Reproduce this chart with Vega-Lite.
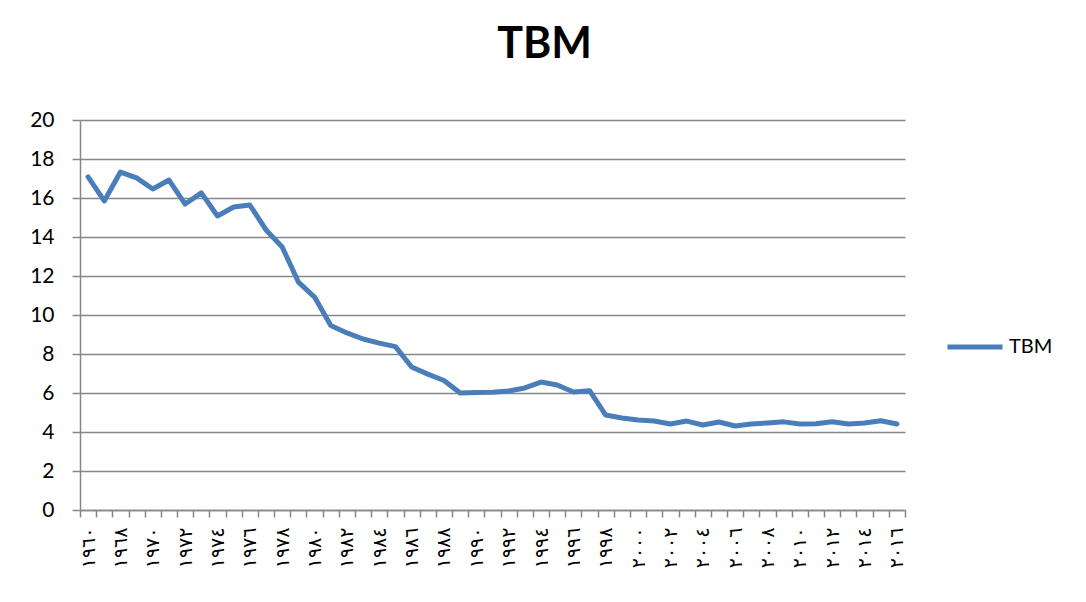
{
  "$schema": "https://vega.github.io/schema/vega-lite/v6.json",
  "autosize": {"type": "none"},
  "width": 825,
  "height": 390,
  "padding": {"left": 80, "top": 120, "right": 181, "bottom": 92},
  "background": "white",
  "title": {
    "text": "TBM",
    "font": "Lato",
    "fontSize": 43,
    "fontWeight": "bold",
    "color": "#000000",
    "anchor": "middle",
    "dx": 52,
    "offset": 42
  },
  "config": {
    "view": {"stroke": null},
    "axis": {"labelColor": "#000000"}
  },
  "data": {
    "values": [
      {"year": "1960", "TBM": 17.08},
      {"year": "1965", "TBM": 15.85},
      {"year": "1968", "TBM": 17.33},
      {"year": "1969", "TBM": 17.03},
      {"year": "1970", "TBM": 16.46},
      {"year": "1971", "TBM": 16.92},
      {"year": "1972", "TBM": 15.69},
      {"year": "1973", "TBM": 16.26},
      {"year": "1974", "TBM": 15.08},
      {"year": "1975", "TBM": 15.54},
      {"year": "1976", "TBM": 15.64},
      {"year": "1977", "TBM": 14.36},
      {"year": "1978", "TBM": 13.49},
      {"year": "1979", "TBM": 11.69},
      {"year": "1980", "TBM": 10.92},
      {"year": "1981", "TBM": 9.46},
      {"year": "1982", "TBM": 9.08},
      {"year": "1983", "TBM": 8.77},
      {"year": "1984", "TBM": 8.56},
      {"year": "1985", "TBM": 8.38},
      {"year": "1986", "TBM": 7.33},
      {"year": "1987", "TBM": 6.97},
      {"year": "1988", "TBM": 6.64},
      {"year": "1989", "TBM": 6.0},
      {"year": "1990", "TBM": 6.03},
      {"year": "1991", "TBM": 6.04},
      {"year": "1992", "TBM": 6.1},
      {"year": "1993", "TBM": 6.26},
      {"year": "1994", "TBM": 6.56},
      {"year": "1995", "TBM": 6.41},
      {"year": "1996", "TBM": 6.05},
      {"year": "1997", "TBM": 6.12},
      {"year": "1998", "TBM": 4.87},
      {"year": "1999", "TBM": 4.72},
      {"year": "2000", "TBM": 4.62},
      {"year": "2001", "TBM": 4.56},
      {"year": "2002", "TBM": 4.41},
      {"year": "2003", "TBM": 4.56},
      {"year": "2004", "TBM": 4.36},
      {"year": "2005", "TBM": 4.51},
      {"year": "2006", "TBM": 4.31},
      {"year": "2007", "TBM": 4.41},
      {"year": "2008", "TBM": 4.46},
      {"year": "2009", "TBM": 4.52},
      {"year": "2010", "TBM": 4.41},
      {"year": "2011", "TBM": 4.42},
      {"year": "2012", "TBM": 4.53},
      {"year": "2013", "TBM": 4.41},
      {"year": "2014", "TBM": 4.46},
      {"year": "2015", "TBM": 4.58},
      {"year": "2016", "TBM": 4.41}
    ]
  },
  "mark": {"type": "line", "strokeWidth": 5, "strokeJoin": "round", "strokeCap": "round"},
  "encoding": {
    "x": {
      "field": "year",
      "type": "nominal",
      "sort": null,
      "scale": {"type": "band", "paddingInner": 0, "paddingOuter": 0},
      "axis": {
        "title": null,
        "tickBand": "extent",
        "grid": false,
        "domainColor": "#868686",
        "domainWidth": 1.5,
        "tickColor": "#868686",
        "tickWidth": 1.5,
        "tickSize": 7,
        "labelAngle": -90,
        "labelAlign": "right",
        "labelBaseline": "middle",
        "labelPadding": 10,
        "labelFont": "DejaVu Sans",
        "labelFontSize": 19,
        "labelOverlap": false,
        "labelExpr": "isString(datum.value) && toNumber(datum.value) % 2 == 0 ? replace(replace(replace(replace(replace(replace(replace(replace(replace(replace(datum.value, regexp('0','g'), '٠'), regexp('1','g'), '١'), regexp('2','g'), '٢'), regexp('3','g'), '٣'), regexp('4','g'), '٤'), regexp('5','g'), '٥'), regexp('6','g'), '٦'), regexp('7','g'), '٧'), regexp('8','g'), '٨'), regexp('9','g'), '٩') : ''"
      }
    },
    "y": {
      "field": "TBM",
      "type": "quantitative",
      "scale": {"domain": [0, 20], "nice": false, "zero": true},
      "axis": {
        "title": null,
        "values": [0, 2, 4, 6, 8, 10, 12, 14, 16, 18, 20],
        "grid": true,
        "gridColor": "#868686",
        "gridWidth": 1.5,
        "domainColor": "#868686",
        "domainWidth": 1.5,
        "tickColor": "#868686",
        "tickWidth": 1.5,
        "tickSize": 8,
        "labelFont": "Lato",
        "labelFontSize": 21,
        "labelPadding": 18
      }
    },
    "color": {
      "datum": "TBM",
      "type": "nominal",
      "scale": {"range": ["#4A7EBB"]},
      "legend": {
        "title": null,
        "orient": "none",
        "legendX": 865,
        "legendY": 197,
        "symbolType": "stroke",
        "symbolSize": 3025,
        "symbolStrokeWidth": 5,
        "labelFont": "Lato",
        "labelFontSize": 20,
        "labelColor": "#000000",
        "labelOffset": 4
      }
    }
  }
}
